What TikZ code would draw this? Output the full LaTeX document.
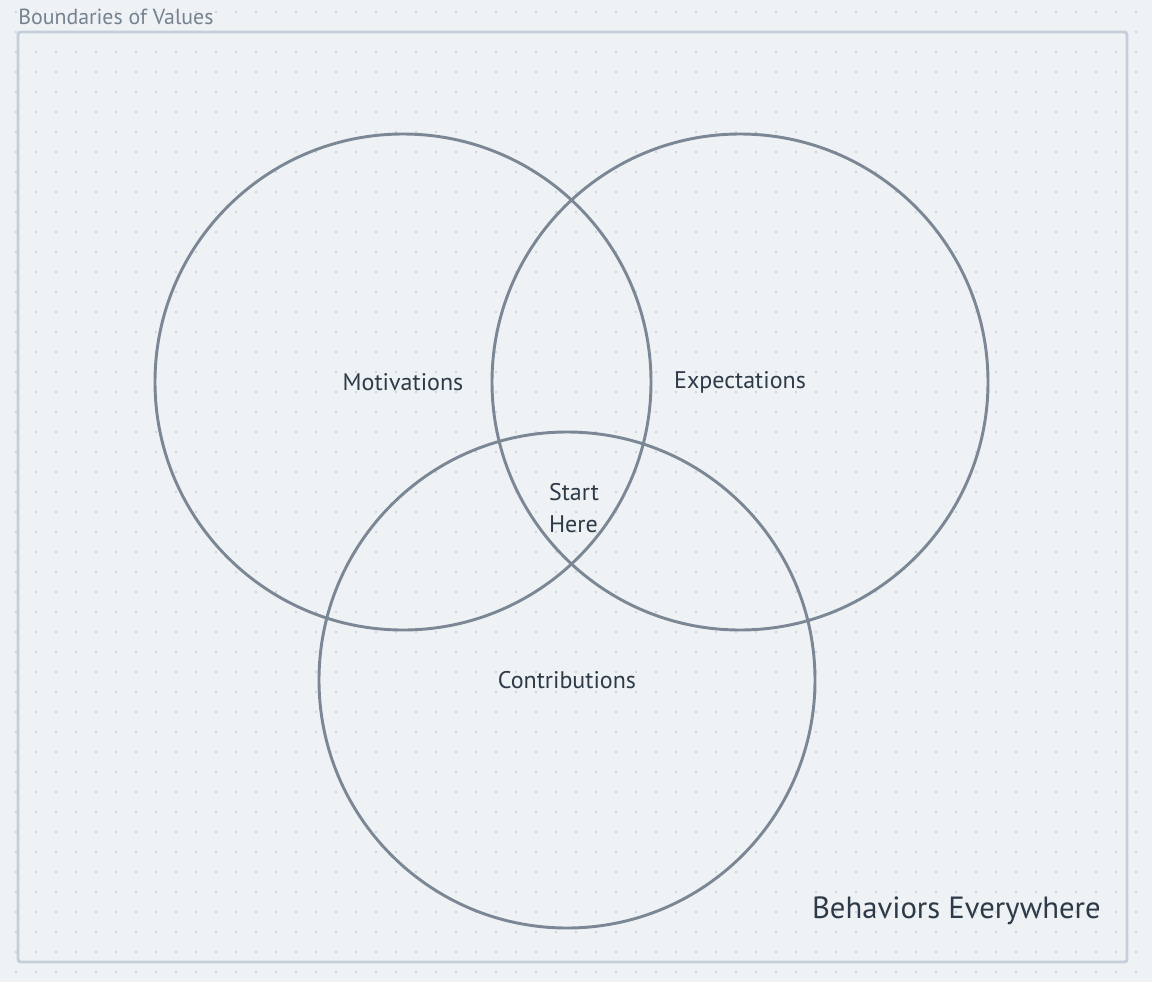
\documentclass[tikz,border=0pt]{standalone}
\usepackage{fontspec}
\setmainfont{PT Sans}
\usetikzlibrary{positioning}
\definecolor{bgcol}{HTML}{EFF2F5}
\definecolor{dotcol}{HTML}{C4CCD5}
\definecolor{framecol}{HTML}{C4CFDA}
\definecolor{ringcol}{HTML}{7B8794}
\definecolor{txtcol}{HTML}{2D3A47}
\definecolor{titlecol}{HTML}{75828F}

\begin{document}
\begin{tikzpicture}[x=0.75pt, y=-0.75pt, font=\fontsize{18}{24.5}\selectfont, text=txtcol,
  ring/.style={draw=ringcol, line width=2.2pt, circle, minimum size=372pt, inner sep=0pt},
  lbl/.style={inner sep=0pt, align=left},
  frame/.style={draw=framecol, line width=2.2pt, rounded corners=2pt}]
\useasboundingbox[fill=bgcol] (0,0) rectangle (1152,982);
\foreach \x in {16,36,...,1146} \foreach \y in {12,32,...,972}
  \fill[dotcol] (\x,\y) circle (1.1);
\draw[frame] (18,32) rectangle (1127,962);
\node[anchor=base west, inner sep=0pt, text=titlecol, font=\fontsize{16.4}{18}\selectfont] (title) at (18,24) {Boundaries of Values};
\node[ring] (mot) at (403,382) {Motivations};
\node[ring] (exp) at (740,382) {Expectations};
\node[ring] (con) at (567,680) {Contributions};
\node[lbl] (start) at (574,508) {Start\\Here};
\node[anchor=base east, inner sep=0pt, font=\fontsize{23}{26}\selectfont] (beh) at (1101,918) {Behaviors Everywhere};
\end{tikzpicture}
\end{document}
